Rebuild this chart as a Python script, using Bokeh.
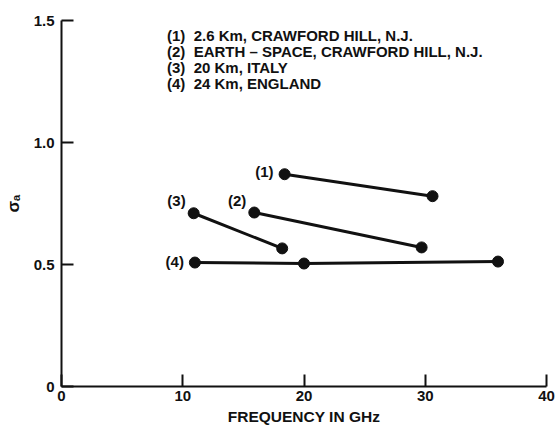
from bokeh.plotting import figure
from bokeh.models import ColumnDataSource, FixedTicker, Range1d
from bokeh.core.properties import value
from bokeh.embed import file_html
from bokeh.resources import INLINE

# Path-length series: frequency (GHz) vs sigma_a
s1_x = [18.4, 30.6]
s1_y = [0.870, 0.780]
s2_x = [15.9, 29.7]
s2_y = [0.713, 0.570]
s3_x = [10.9, 18.2]
s3_y = [0.710, 0.566]
s4_x = [11.0, 20.0, 36.0]
s4_y = [0.508, 0.504, 0.512]

series_tags = ["(1)", "(2)", "(3)", "(4)"]
legend_lines = [
    "(1)\u00a0 2.6 Km, CRAWFORD HILL, N.J.",
    "(2)\u00a0 EARTH \u2013 SPACE, CRAWFORD HILL, N.J.",
    "(3)\u00a0 20 Km, ITALY",
    "(4)\u00a0 24 Km, ENGLAND",
]

x_ticks = [0, 10, 20, 30, 40]
y_ticks = [0, 0.5, 1.0, 1.5]
y_tick_labels = {0: "0", 0.5: "0.5", 1: "1.0", 1.5: "1.5"}

FONT = "Liberation Sans"
INK = "#111111"

p = figure(
    width=555, height=428,
    x_range=Range1d(0, 40), y_range=Range1d(0, 1.5),
    output_backend="svg", toolbar_location=None,
    min_border_left=59, min_border_right=9,
    min_border_top=20, min_border_bottom=42,
)
p.outline_line_color = None
p.grid.visible = False
p.background_fill_color = "white"
p.border_fill_color = "white"

for ax in (p.xaxis[0], p.yaxis[0]):
    ax.axis_line_width = 2
    ax.axis_line_color = INK
    ax.major_tick_line_width = 2
    ax.major_tick_line_color = INK
    ax.major_tick_in = 12
    ax.major_tick_out = 0
    ax.minor_tick_line_color = None
    ax.major_label_text_font = FONT
    ax.major_label_text_font_size = "15px"
    ax.major_label_text_font_style = "bold"
    ax.major_label_text_color = INK
    ax.axis_label_text_font = FONT
    ax.axis_label_text_font_style = "bold"
    ax.axis_label_text_color = INK

p.xaxis.ticker = FixedTicker(ticks=x_ticks)
p.yaxis.ticker = FixedTicker(ticks=y_ticks)
p.yaxis.major_label_overrides = y_tick_labels
p.xaxis.major_label_standoff = 4
p.yaxis.major_label_standoff = 7
p.xaxis.axis_label = "FREQUENCY IN GHz"
p.xaxis.axis_label_text_font_size = "15.5px"
p.xaxis.axis_label_standoff = 4
p.yaxis.axis_label = "\u03c3\u2090"
p.yaxis.axis_label_text_font_size = "17px"
p.yaxis.axis_label_standoff = 8

series = [(s1_x, s1_y), (s2_x, s2_y), (s3_x, s3_y), (s4_x, s4_y)]
for xs, ys in series:
    p.line(xs, ys, line_width=3, line_color=INK)
    p.scatter(xs, ys, size=11, marker="circle", fill_color=INK, line_color=INK)

# series tags placed beside each series' first point
tag_dx = [-11, -8, -8, -11]
tag_dy = [-3, -12, -13, -1]
for (xs, ys), tag, dx, dy in zip(series, series_tags, tag_dx, tag_dy):
    p.text(x=[xs[0]], y=[ys[0]], text=[tag], x_offset=dx, y_offset=dy,
           text_align="right", text_baseline="middle",
           text_font=value(FONT), text_font_size="15px",
           text_font_style="bold", text_color=INK)

# key block in the upper part of the plot
key_x = 8.7
key_top = 1.439
line_step = 16 / 244
key_src = ColumnDataSource(dict(
    x=[key_x] * len(legend_lines),
    y=[key_top - i * line_step for i in range(len(legend_lines))],
    t=legend_lines,
))
p.text(x="x", y="y", text="t", source=key_src,
       text_align="left", text_baseline="middle",
       text_font=value(FONT), text_font_size="15px",
       text_font_style="bold", text_color=INK)

open("out.html", "w").write(file_html(p, INLINE))
